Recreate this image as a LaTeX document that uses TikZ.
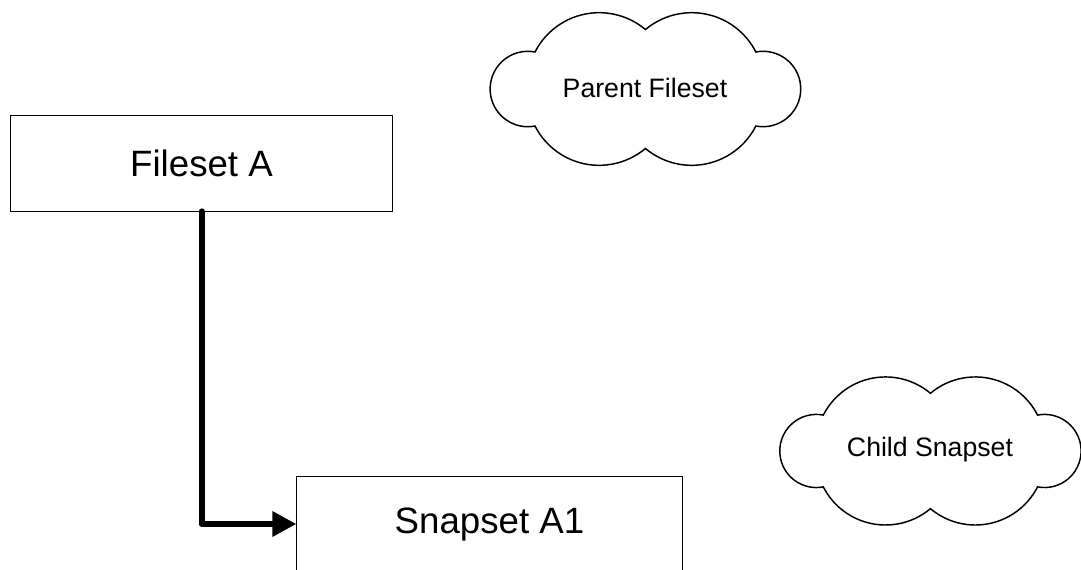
\documentclass[tikz,border=0pt]{standalone}
\usepackage{fontspec}
\setmainfont{Liberation Sans}
\usepackage{tikz}
\usetikzlibrary{arrows.meta, positioning, calc}

\begin{document}
\begin{tikzpicture}[
  x=0.75pt, y=0.75pt,
  setbox/.style={draw, line width=0.6pt, inner sep=0pt, minimum width=287pt, minimum height=72pt, font=\fontsize{27.5}{33}\selectfont},
  cloudtext/.style={inner sep=0pt, font=\fontsize{20}{24}\selectfont},
  flow/.style={line width=4.5pt, line cap=round, line join=round, -{Triangle[length=18pt, width=18pt]}},
  pics/puff/.style={code={
    \draw[line width=1.1pt] (-110,36)
      arc[start angle=153, end angle=50, radius=72]
      arc[start angle=130, end angle=27, radius=72]
      arc[start angle=101, end angle=-101, radius=37.7]
      arc[start angle=-27, end angle=-130, radius=72]
      arc[start angle=-50, end angle=-153, radius=72]
      arc[start angle=-79, end angle=-281, radius=37.7] -- cycle;
  }},
]
\useasboundingbox (0,0) rectangle (1081,569);

% Boxes
\node[setbox] (fa) at (201.5, 406) {Fileset A};
\node[setbox, minimum width=289pt] (sa) at (489.5, 45) {Snapset A1};

% Clouds
\node[cloudtext] (parent) at (645, 481) {Parent Fileset};
\pic at (parent.center) {puff};
\node[cloudtext] (child) at (930, 119) {Child Snapset};
\pic[scale=0.97] at (child.center) {puff};

% Connector
\draw[flow] (fa.south) |- (sa.west);
\end{tikzpicture}
\end{document}
